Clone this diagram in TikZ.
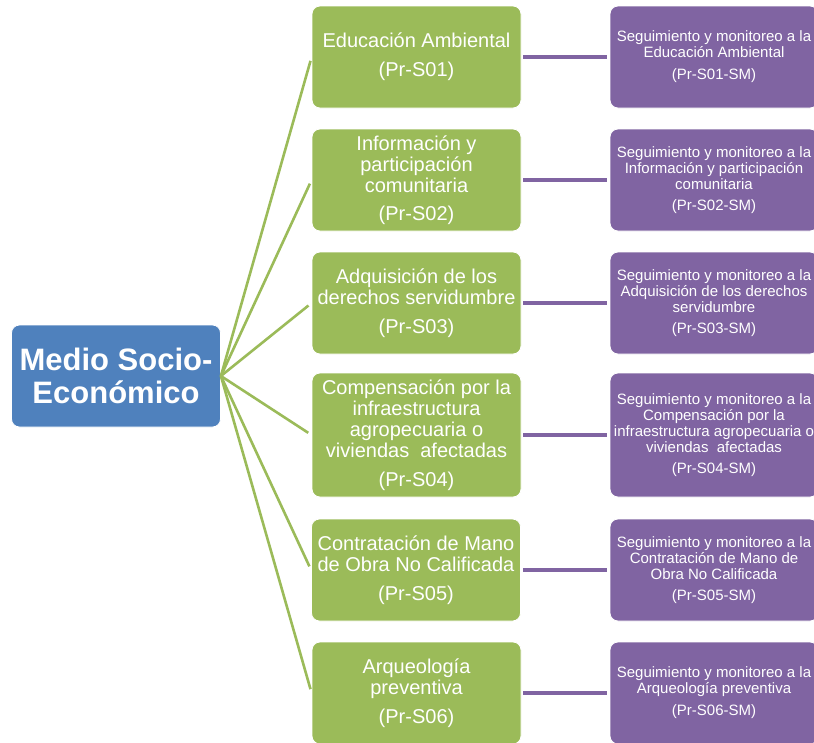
\documentclass[tikz,border=0pt]{standalone}
\usepackage{fontspec}
\setmainfont{Liberation Sans}
\definecolor{blueA}{HTML}{4F81BD}
\definecolor{greenA}{HTML}{9BBB59}
\definecolor{purpleA}{HTML}{8064A2}
\tikzset{
  mainbox/.style={fill=blueA, draw=white, line width=0.8pt, rounded corners=8pt, minimum width=209pt, minimum height=102pt, inner sep=2pt, align=center, text=white, font=\fontsize{31}{33}\selectfont\bfseries},
  progbox/.style={fill=greenA, draw=white, line width=0.8pt, rounded corners=8pt, minimum width=209pt, minimum height=102pt, inner sep=1pt, align=center, text=white, font=\fontsize{20}{21}\selectfont},
  monbox/.style={fill=purpleA, draw=white, line width=0.8pt, rounded corners=8pt, minimum width=208pt, minimum height=102pt, inner sep=1pt, align=center, text=white, font=\fontsize{15}{16}\selectfont},
  greenlink/.style={draw=greenA, line width=2.6pt, shorten >=4pt},
  purplelink/.style={draw=purpleA, line width=4pt, shorten >=3pt, shorten <=2pt},
}
\begin{document}
\begin{tikzpicture}[x=1pt,y=-1pt]
\useasboundingbox (0,0) rectangle (814,742);
\node[mainbox] (m) at (116,376) {Medio Socio-\\Económico};

\node[progbox] (g1) at (416.5,57) {Educación Ambiental\\[8pt](Pr-S01)};
\node[progbox] (g2) at (416.5,180) {Información y\\participación\\comunitaria\\[7pt](Pr-S02)};
\node[progbox] (g3) at (416.5,303) {Adquisición de los\\derechos servidumbre\\[8pt](Pr-S03)};
\node[progbox, minimum height=124pt] (g4) at (416.5,435) {Compensación por la\\infraestructura\\agropecuaria o\\viviendas\ \ afectadas\\[8pt](Pr-S04)};
\node[progbox] (g5) at (416,570) {Contratación de Mano\\de Obra No Calificada\\[8pt](Pr-S05)};
\node[progbox] (g6) at (416.5,693) {Arqueología\\preventiva\\[8pt](Pr-S06)};

\node[monbox] (p1) at (714,57) {Seguimiento y monitoreo a la\\Educación Ambiental\\[6pt](Pr-S01-SM)};
\node[monbox] (p2) at (714,180) {Seguimiento y monitoreo a la\\Información y participación\\comunitaria\\[5pt](Pr-S02-SM)};
\node[monbox] (p3) at (714,303) {Seguimiento y monitoreo a la\\Adquisición de los derechos\\servidumbre\\[5pt](Pr-S03-SM)};
\node[monbox, minimum height=124pt] (p4) at (714,435) {Seguimiento y monitoreo a la\\Compensación por la\\infraestructura agropecuaria o\\viviendas\ \ afectadas\\[5pt](Pr-S04-SM)};
\node[monbox] (p5) at (714,570) {Seguimiento y monitoreo a la\\Contratación de Mano de\\Obra No Calificada\\[5pt](Pr-S05-SM)};
\node[monbox] (p6) at (714,693) {Seguimiento y monitoreo a la\\Arqueología preventiva\\[6pt](Pr-S06-SM)};

\foreach \i in {1,...,6}{
  \draw[greenlink] (m.east) -- (g\i.west);
  \draw[purplelink] (g\i.east) -- (p\i.west);
}
\end{tikzpicture}
\end{document}
